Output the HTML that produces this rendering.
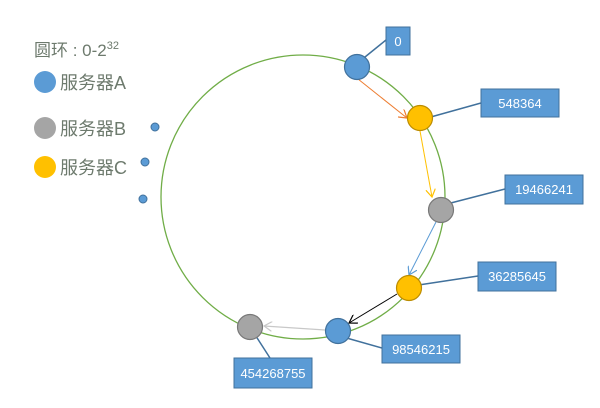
<!DOCTYPE html>
<html><head><meta charset="utf-8"><style>
body{margin:0;background:#fff;}
svg text{font-family:"Liberation Sans","Noto Sans CJK SC",sans-serif;}
</style></head><body>
<svg width="600" height="403" viewBox="0 0 600 403" xmlns="http://www.w3.org/2000/svg">
<defs>
<marker id="ao" markerWidth="10" markerHeight="10" refX="8" refY="5" orient="auto" markerUnits="userSpaceOnUse"><path d="M0,0 L8,5 L0,10" fill="none" stroke="#ed7d31" stroke-width="1.2"/></marker>
<marker id="ay" markerWidth="10" markerHeight="10" refX="8" refY="5" orient="auto" markerUnits="userSpaceOnUse"><path d="M0,0 L8,5 L0,10" fill="none" stroke="#ffc000" stroke-width="1.2"/></marker>
<marker id="ab" markerWidth="10" markerHeight="10" refX="8" refY="5" orient="auto" markerUnits="userSpaceOnUse"><path d="M0,0 L8,5 L0,10" fill="none" stroke="#5b9bd5" stroke-width="1.2"/></marker>
<marker id="ak" markerWidth="10" markerHeight="10" refX="8" refY="5" orient="auto" markerUnits="userSpaceOnUse"><path d="M0,0 L8,5 L0,10" fill="none" stroke="#000" stroke-width="1.2"/></marker>
<marker id="ag" markerWidth="10" markerHeight="10" refX="8" refY="5" orient="auto" markerUnits="userSpaceOnUse"><path d="M0,0 L8,5 L0,10" fill="none" stroke="#c8c8c8" stroke-width="1.2"/></marker>
</defs>
<circle cx="303" cy="197" r="142" fill="none" stroke="#70ad47" stroke-width="1.3"/>
<text x="34" y="56" font-size="17" fill="#6d7a6d">圆环 : 0-2<tspan font-size="11" dy="-7">32</tspan></text>
<circle cx="45" cy="82" r="11" fill="#5b9bd5"/>
<text x="60" y="89" font-size="18" fill="#6d7a6d">服务器A</text>
<circle cx="45" cy="128" r="11" fill="#a5a5a5"/>
<text x="60" y="135" font-size="18" fill="#6d7a6d">服务器B</text>
<circle cx="45" cy="167" r="11" fill="#ffc000"/>
<text x="60" y="174" font-size="18" fill="#6d7a6d">服务器C</text>
<g fill="#5b9bd5" stroke="#41719c" stroke-width="1">
<circle cx="155" cy="127" r="4"/><circle cx="145" cy="162" r="4"/><circle cx="143" cy="199" r="4"/>
</g>
<line x1="358" y1="79" x2="407" y2="118" stroke="#ed7d31" stroke-width="1" marker-end="url(#ao)"/>
<line x1="420" y1="131" x2="432" y2="197" stroke="#ffc000" stroke-width="1" marker-end="url(#ay)"/>
<line x1="436" y1="222" x2="409" y2="275" stroke="#5b9bd5" stroke-width="1" marker-end="url(#ab)"/>
<line x1="397" y1="294" x2="349" y2="323" stroke="#000" stroke-width="1" marker-end="url(#ak)"/>
<line x1="325" y1="330" x2="264" y2="326" stroke="#c8c8c8" stroke-width="1.3" marker-end="url(#ag)"/>
<g stroke="#41719c" stroke-width="1.5">
<line x1="365" y1="57" x2="386" y2="40"/>
<line x1="420" y1="120" x2="481" y2="103"/>
<line x1="443" y1="205" x2="505" y2="189"/>
<line x1="412" y1="286" x2="478" y2="276"/>
<line x1="343" y1="337" x2="382" y2="348"/>
<line x1="252" y1="330" x2="270" y2="358"/>
</g>
<circle cx="357" cy="67" r="12.5" fill="#5b9bd5" stroke="#41719c" stroke-width="1.2"/>
<circle cx="420" cy="118" r="12.5" fill="#ffc000" stroke="#bc8c00" stroke-width="1.2"/>
<circle cx="441" cy="210" r="12.5" fill="#a5a5a5" stroke="#787878" stroke-width="1.2"/>
<circle cx="409" cy="288" r="12.5" fill="#ffc000" stroke="#bc8c00" stroke-width="1.2"/>
<circle cx="338" cy="331" r="12.5" fill="#5b9bd5" stroke="#41719c" stroke-width="1.2"/>
<circle cx="250" cy="327" r="12.5" fill="#a5a5a5" stroke="#787878" stroke-width="1.2"/>
<g fill="#5b9bd5" stroke="#41719c" stroke-width="1">
<rect x="386" y="27" width="24" height="28"/>
<rect x="481" y="89" width="78" height="28"/>
<rect x="505" y="175" width="78" height="29"/>
<rect x="478" y="262" width="78" height="29"/>
<rect x="382" y="335" width="78" height="28"/>
<rect x="234" y="358" width="78" height="30"/>
</g>
<g fill="#fff" font-size="13" text-anchor="middle">
<text x="398" y="46">0</text>
<text x="520" y="108">548364</text>
<text x="544" y="194">19466241</text>
<text x="517" y="281">36285645</text>
<text x="421" y="354">98546215</text>
<text x="273" y="378">454268755</text>
</g>
</svg>
</body></html>
